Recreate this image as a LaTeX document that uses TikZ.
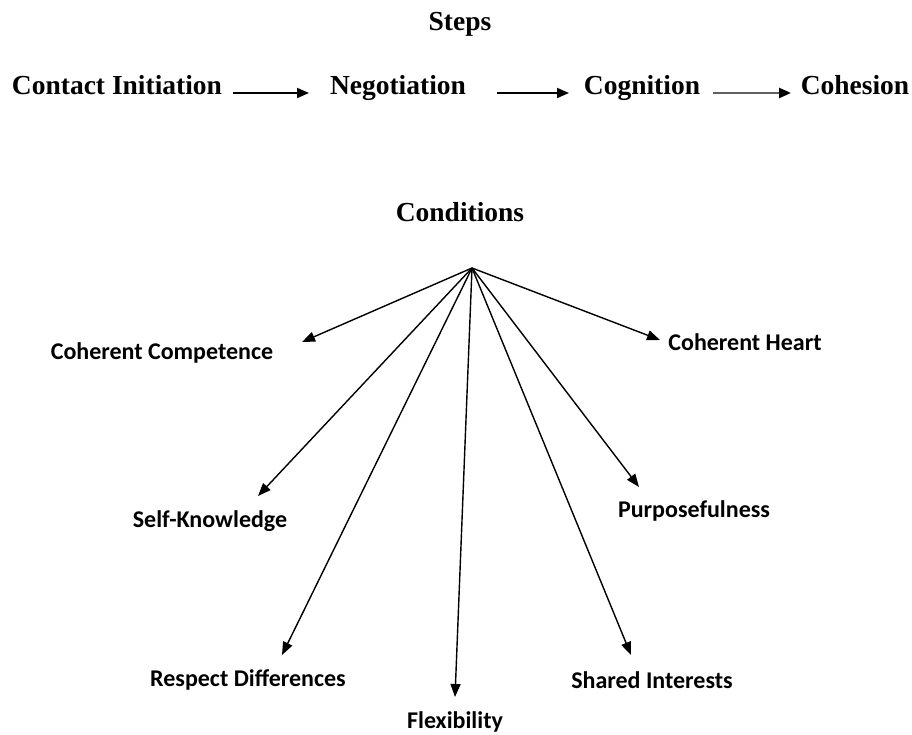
\documentclass[tikz,border=0pt]{standalone}
\usepackage{fontspec}
\setmainfont{Liberation Serif}
\newfontfamily\calib{Carlito}
\usetikzlibrary{arrows.meta}
\begin{document}
\begin{tikzpicture}[x=1pt,y=-1pt,
  title/.style={font=\fontsize{27.5}{30}\selectfont\bfseries, inner sep=0pt, anchor=base},
  cond/.style={font=\calib\fontsize{24}{28}\selectfont\bfseries, inner sep=0pt},
  steparrow/.style={line width=1.8pt, -{Triangle[length=12pt,width=10pt,color=black]}},
  condarrow/.style={line width=1.4pt, -{Triangle[length=13pt,width=10pt]}}]
\useasboundingbox (0,0) rectangle (912,735);
\node[title] (steps) at (460,31) {Steps};
\node[title] (ci) at (117,95) {Contact Initiation};
\node[title] (neg) at (398,95) {Negotiation};
\node[title] (cog) at (642,95) {Cognition};
\node[title] (coh) at (855,95) {Cohesion};
\coordinate (a1s) at (233,93); \coordinate (a1e) at (309,93);
\coordinate (a2s) at (497,93); \coordinate (a2e) at (569,93);
\coordinate (a3s) at (713,93); \coordinate (a3e) at (791,93);
\draw[steparrow] (a1s) -- (a1e);
\draw[steparrow] (a2s) -- (a2e);
\draw[steparrow, line width=2.4pt, draw=gray!75!black] (a3s) -- (a3e);
\node[title] (cond) at (460,222) {Conditions};
\coordinate (apex) at (472,268);
\node[cond] (cc) at (162,353) {Coherent Competence};
\node[cond] (ch) at (745,342) {Coherent Heart};
\node[cond] (sk) at (210,521) {Self-Knowledge};
\node[cond] (pu) at (694,511) {Purposefulness};
\node[cond] (rd) at (248,680) {Respect Differences};
\node[cond] (fl) at (455,722) {Flexibility};
\node[cond] (si) at (652,680) {Shared Interests};
\coordinate (tcc) at (302,342);
\coordinate (tch) at (660,340);
\coordinate (tsk) at (258,496);
\coordinate (tpu) at (639,487);
\coordinate (trd) at (282,655);
\coordinate (tfl) at (455,697);
\coordinate (tsi) at (631,655);
\foreach \t in {tcc,tch,tsk,tpu,trd,tfl,tsi}
  \draw[condarrow] (apex) -- (\t);
\end{tikzpicture}
\end{document}
